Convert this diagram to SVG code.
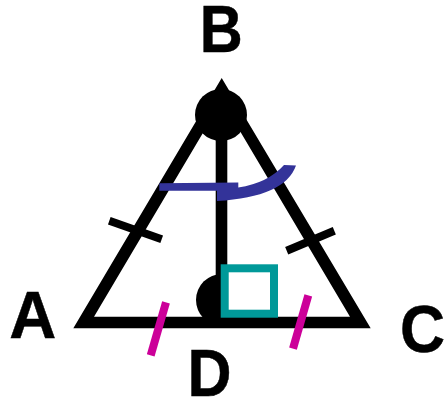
<svg xmlns="http://www.w3.org/2000/svg" width="444" height="399" viewBox="0 0 444 399">
<style>
.lbl{font-family:"Liberation Sans",Arial,sans-serif;font-weight:700;font-size:66px;fill:#000;text-anchor:middle;stroke:#000;stroke-width:.5}
.tick{stroke:#000;stroke-width:8;fill:none}
.mag{stroke:#cc0099;stroke-width:8;fill:none}
</style>
<rect width="444" height="399" fill="#fff"/>
<g id="triangle">
<path fill="#000" fill-rule="evenodd" d="M221.7 78L370.7 328.3H73.3ZM222 100.7L94 316.7H350Z"/>
<circle cx="221" cy="115" r="26" fill="#000"/>
<rect x="215.7" y="115" width="11.6" height="205" fill="#000"/>
<circle cx="222" cy="300" r="26" fill="#000"/>
</g>
<g id="connectors">
<path class="tick" d="M109.3 220.7L161.7 239.3"/>
<path class="tick" d="M286.7 250.7L334.3 230.7"/>
<path class="mag" d="M166 302.3L150.7 355.3"/>
<path class="mag" d="M308.3 295.3L293 348.7"/>
</g>
<g id="right-angle">
<rect x="224.7" y="268.3" width="49.3" height="45.4" fill="#fff" stroke="#009999" stroke-width="8"/>
</g>
<g id="arc">
<path fill="#333399" d="M159.3 183.3L238.3 182.5V187.5Q268 183 284 165L296 165.5Q285 197 217 201V190.7H159.3Z"/>
</g>
<g id="label-A"><text class="lbl" x="32.7" y="338.3" textLength="47" lengthAdjust="spacingAndGlyphs">A</text></g>
<g id="label-B"><text class="lbl" x="221.3" y="51.5" textLength="43" lengthAdjust="spacingAndGlyphs">B</text></g>
<g id="label-C"><text class="lbl" x="422.5" y="351.5" textLength="45" lengthAdjust="spacingAndGlyphs">C</text></g>
<g id="label-D"><text class="lbl" x="209.5" y="396" textLength="44" lengthAdjust="spacingAndGlyphs">D</text></g>
</svg>
